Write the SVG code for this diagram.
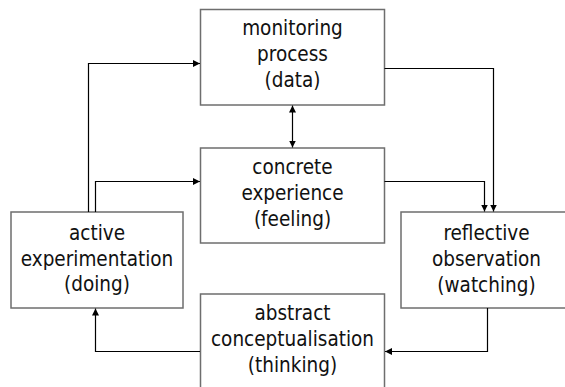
<svg xmlns="http://www.w3.org/2000/svg" width="565" height="387" viewBox="0 0 565 387">
  <style>
    .box { fill: #ffffff; stroke: #6e6e6e; stroke-width: 1.5; }
    .lbl { font-family: "DejaVu Sans Condensed", "DejaVu Sans", "Liberation Sans", sans-serif; font-stretch: condensed; font-size: 20.5px; fill: #111111; text-anchor: middle; }
    .wire { fill: none; stroke: #000000; stroke-width: 1.2; }
  </style>
  <defs>
    <marker id="arrow" viewBox="0 0 10 10" refX="10" refY="5" markerWidth="7" markerHeight="7" markerUnits="userSpaceOnUse" orient="auto-start-reverse">
      <path d="M0,0 L10,5 L0,10 z" fill="#000000"/>
    </marker>
  </defs>
  <rect width="565" height="387" fill="#ffffff"/>

  <g id="monitoring">
    <rect class="box" x="200.5" y="9.5" width="184" height="95.5"/>
    <text class="lbl" x="292.5" y="35">monitoring</text>
    <text class="lbl" x="292.5" y="61">process</text>
    <text class="lbl" x="292.5" y="87">(data)</text>
  </g>

  <g id="concrete">
    <rect class="box" x="200.5" y="148" width="184" height="95"/>
    <text class="lbl" x="292.5" y="174">concrete</text>
    <text class="lbl" x="292.5" y="200">experience</text>
    <text class="lbl" x="292.5" y="226">(feeling)</text>
  </g>

  <g id="active">
    <rect class="box" x="11" y="212" width="172" height="96"/>
    <text class="lbl" x="97" y="240">active</text>
    <text class="lbl" x="97" y="266">experimentation</text>
    <text class="lbl" x="97" y="291">(doing)</text>
  </g>

  <g id="reflective">
    <rect class="box" x="401" y="212" width="170" height="96"/>
    <text class="lbl" x="486.5" y="240">reflective</text>
    <text class="lbl" x="486.5" y="266">observation</text>
    <text class="lbl" x="486.5" y="292">(watching)</text>
  </g>

  <g id="abstract">
    <rect class="box" x="200.5" y="294" width="184" height="100"/>
    <text class="lbl" x="292.5" y="320">abstract</text>
    <text class="lbl" x="292.5" y="346">conceptualisation</text>
    <text class="lbl" x="292.5" y="372">(thinking)</text>
  </g>

  <g id="connectors">
    <path class="wire" d="M88.5,212 V63.5 H200" marker-end="url(#arrow)"/>
    <path class="wire" d="M95.5,212 V181.5 H200" marker-end="url(#arrow)"/>
    <path class="wire" d="M292.5,105.5 V147.5" marker-start="url(#arrow)" marker-end="url(#arrow)"/>
    <path class="wire" d="M384.5,68.5 H493.5 V211.5" marker-end="url(#arrow)"/>
    <path class="wire" d="M384.5,181.5 H484.5 V211.5" marker-end="url(#arrow)"/>
    <path class="wire" d="M487.5,308 V351.5 H385" marker-end="url(#arrow)"/>
    <path class="wire" d="M200,351.5 H95.5 V308.5" marker-end="url(#arrow)"/>
  </g>
</svg>
